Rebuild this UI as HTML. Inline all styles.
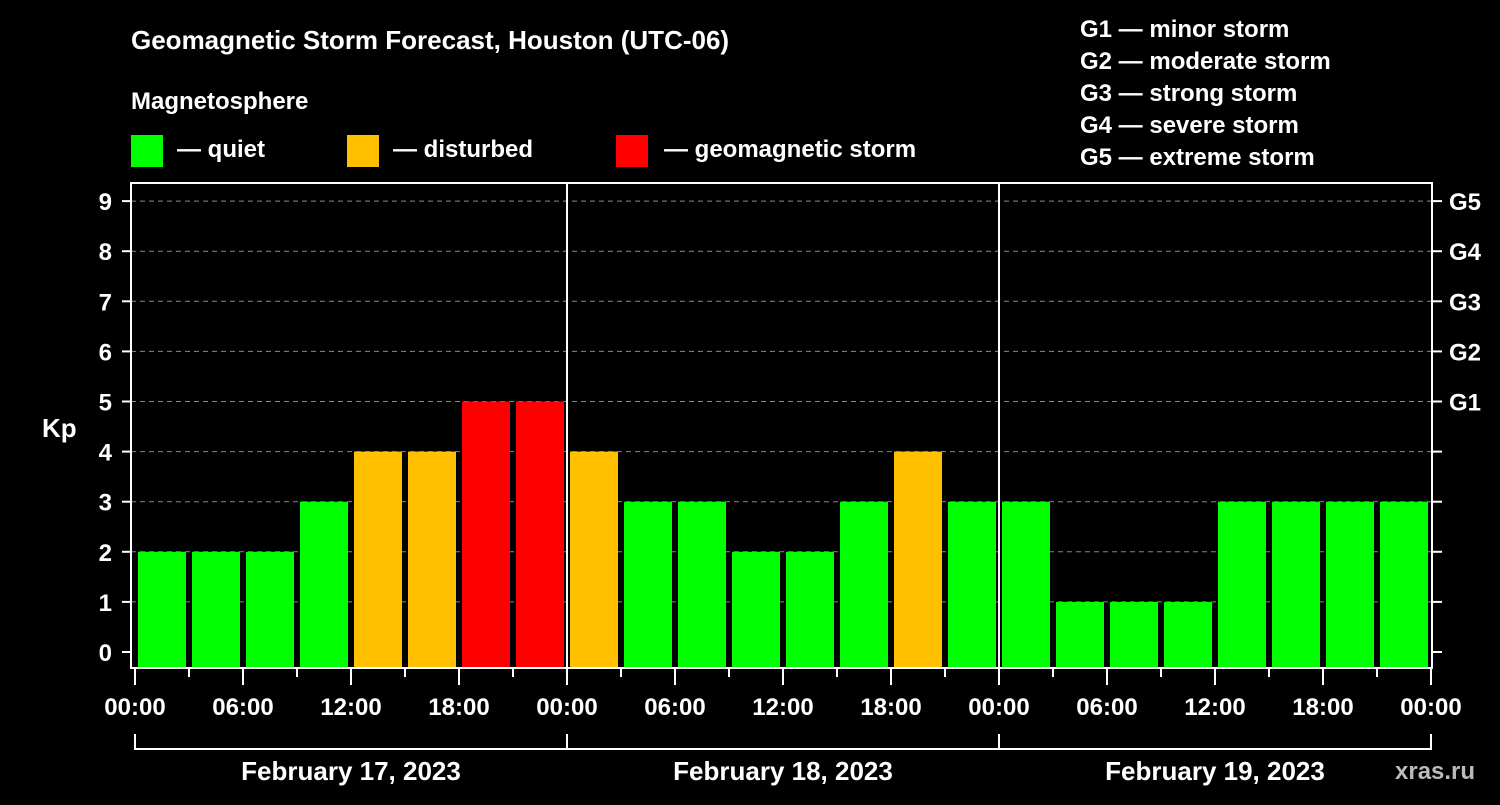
<!DOCTYPE html>
<html><head><meta charset="utf-8"><style>
body{margin:0;background:#000;width:1500px;height:800px;overflow:hidden}
svg text{font-family:"Liberation Sans",Arial,sans-serif;font-weight:bold;fill:#fff}
</style></head><body>
<svg id="c" width="1500" height="800" xmlns="http://www.w3.org/2000/svg">
<rect width="1500" height="800" fill="#000"/>
<text x="131" y="49" font-size="26">Geomagnetic Storm Forecast, Houston (UTC-06)</text>
<text x="131" y="109" font-size="24">Magnetosphere</text>
<rect x="131" y="135" width="32" height="32" fill="#00ff00"/>
<text x="177" y="157" font-size="24">— quiet</text>
<rect x="347" y="135" width="32" height="32" fill="#ffc000"/>
<text x="393" y="157" font-size="24">— disturbed</text>
<rect x="616" y="135" width="32" height="32" fill="#ff0000"/>
<text x="664" y="157" font-size="24">— geomagnetic storm</text>
<g font-size="24">
<text x="1080" y="37">G1 — minor storm</text>
<text x="1080" y="69">G2 — moderate storm</text>
<text x="1080" y="101">G3 — strong storm</text>
<text x="1080" y="133">G4 — severe storm</text>
<text x="1080" y="165">G5 — extreme storm</text>
</g>
<text x="42" y="437" font-size="26">Kp</text>
<text x="1395" y="779" font-size="24" fill="#bbb" style="fill:#bbb">xras.ru</text>
<g id="grid"></g><g id="bars"></g><g id="axes"></g>
</svg>
<script>
const values = [2,2,2,3,4,4,5,5, 4,3,3,2,2,3,4,3, 3,1,1,1,3,3,3,3];
const yTicks = [0,1,2,3,4,5,6,7,8,9];
const gLabels = ["G1","G2","G3","G4","G5"];
const xLabels = ["00:00","06:00","12:00","18:00","00:00","06:00","12:00","18:00","00:00","06:00","12:00","18:00","00:00"];
const days = ["February 17, 2023","February 18, 2023","February 19, 2023"];

const NS="http://www.w3.org/2000/svg";
const X0=135, X1=1431, PL=131, PR=1432, PT=183, PB=668;
const y=v=>652-v*50.1;
const x=i=>X0+i*(X1-X0)/values.length;
function mk(tag,attrs,parent){const e=document.createElementNS(NS,tag);for(const k in attrs)e.setAttribute(k,attrs[k]);document.getElementById(parent).appendChild(e);return e;}
const col=v=>v>=5?"#ff0000":v>=4?"#ffc000":"#00ff00";

yTicks.forEach(t=>{
  if(t>0){const g=mk("line",{x1:PL,x2:PR,y1:y(t),y2:y(t),stroke:"#888","stroke-dasharray":"5,4","stroke-width":1},"grid");
  
  }
  const tk=mk("line",{x1:122,x2:PL,y1:y(t),y2:y(t),stroke:"#fff","stroke-width":2},"axes");
  
  
  const tr=mk("line",{x1:PR,x2:1442,y1:y(t),y2:y(t),stroke:"#fff","stroke-width":2},"axes");
  
  
  const lb=mk("text",{x:112,y:y(t)+9,"font-size":24,"text-anchor":"end"},"axes");lb.textContent=t;
  
  
});
gLabels.forEach((g,i)=>{
  const lb=mk("text",{x:1449,y:y(i+5)+9,"font-size":24},"axes");lb.textContent=g;
  
  
});
values.forEach((v,i)=>{
  const r=mk("rect",{x:x(i)+3,y:y(v),width:(X1-X0)/values.length-6,height:PB-1-y(v),fill:col(v)},"bars");
  
  
});
const fr=mk("rect",{x:PL,y:PT,width:PR-PL,height:PB-PT,fill:"none",stroke:"#fff","stroke-width":2},"axes");


[1,2].forEach(d=>{const l=mk("line",{x1:x(d*8),x2:x(d*8),y1:PT,y2:PB,stroke:"#fff","stroke-width":2},"axes");
  
  });
for(let i=0;i<=values.length;i++){
  const maj=i%2===0;
  const t=mk("line",{x1:x(i),x2:x(i),y1:PB,y2:PB+(maj?17:9),stroke:"#fff","stroke-width":2},"axes");
  
  
}
xLabels.forEach((s,i)=>{
  const lb=mk("text",{x:x(i*2),y:715,"font-size":24,"text-anchor":"middle"},"axes");lb.textContent=s;
  
  
});
days.forEach((d,i)=>{
  const a=x(i*8),b=x(i*8+8);
  const p=mk("path",{d:`M${a},734V749H${b}`+(i===2?`V734`:``),fill:"none",stroke:"#fff","stroke-width":2},"axes");
  
  
  const lb=mk("text",{x:(a+b)/2,y:780,"font-size":26,"text-anchor":"middle"},"axes");lb.textContent=d;
  
  
});
</script>
</body></html>
